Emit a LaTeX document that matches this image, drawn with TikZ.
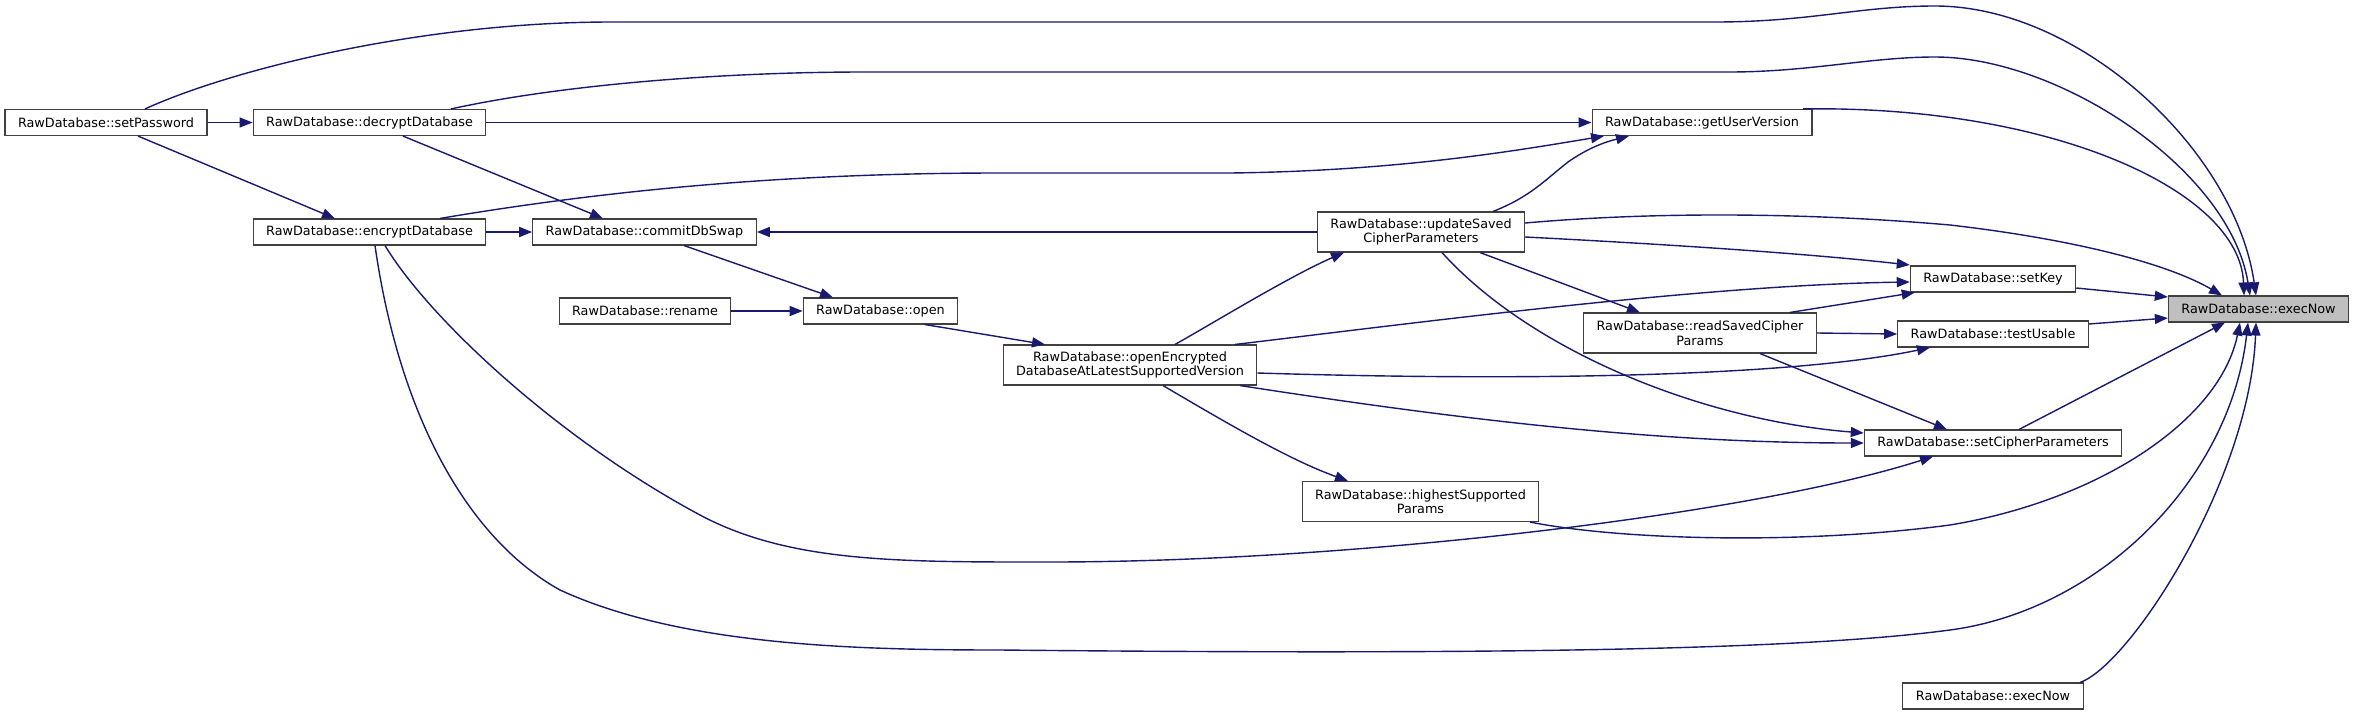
\documentclass[tikz,border=0pt]{standalone}
\usepackage{fontspec}
\setmainfont{DejaVu Sans}
\usetikzlibrary{arrows.meta}
\definecolor{edgec}{HTML}{191970}
\definecolor{boxc}{HTML}{404040}
\definecolor{fillc}{HTML}{BFBFBF}
\begin{document}
\begin{tikzpicture}[x=1pt,y=-1pt,
  fn/.style={draw=boxc, line width=1.1pt, fill=white, inner xsep=13pt, inner ysep=0pt,
    minimum height=26pt, font=\fontsize{12.8pt}{14.5pt}\selectfont, align=center},
  fntwo/.style={fn, minimum height=40pt},
  conn/.style={draw=edgec, line width=1.4pt, -{Triangle[length=13pt,width=10pt]}}]
\useasboundingbox (0,0) rectangle (2353,715);
\node[fn] (sp) at (106,122.5) {RawDatabase::setPassword};
\node[fn] (dec) at (369.5,122.5) {RawDatabase::decryptDatabase};
\node[fn] (guv) at (1702,122.5) {RawDatabase::getUserVersion};
\node[fn] (enc) at (369.5,232) {RawDatabase::encryptDatabase};
\node[fn] (cds) at (644.5,232) {RawDatabase::commitDbSwap};
\node[fntwo] (usc) at (1421,232) {RawDatabase::updateSaved\\CipherParameters};
\node[fn] (sk) at (1993,279) {RawDatabase::setKey};
\node[fn, fill=fillc] (ex) at (2258.5,309) {RawDatabase::execNow};
\node[fntwo] (rsc) at (1700,333) {RawDatabase::readSavedCipher\\Params};
\node[fn] (tu) at (1993,334) {RawDatabase::testUsable};
\node[fn] (ren) at (645,311) {RawDatabase::rename};
\node[fn] (opn) at (880.5,311) {RawDatabase::open};
\node[fntwo] (oe) at (1130,365) {RawDatabase::openEncrypted\\DatabaseAtLatestSupportedVersion};
\node[fn] (sc) at (1993,443) {RawDatabase::setCipherParameters};
\node[fntwo] (hs) at (1420.5,501.5) {RawDatabase::highestSupported\\Params};
\node[fn] (exb) at (1993,696) {RawDatabase::execNow};

\draw[conn] (sp.east) -- (dec.west);
\draw[conn] (sp.south -| 138,0) -- (enc.north -| 335,0);
\draw[conn] (sp.north -| 145,0) .. controls (230,70) and (420,22) .. (612,22) -- (1715,22) .. controls (1810,22) and (1860,6) .. (1935,6) .. controls (2080,6) and (2235,150) .. (ex.north -| 2256,0);
\draw[conn] (dec.east) -- (guv.west);
\draw[conn] (dec.south -| 403,0) -- (cds.north -| 603,0);
\draw[conn] (dec.north -| 451,0) .. controls (560,85) and (720,72) .. (865,72) -- (1729,72) .. controls (1810,72) and (1870,57) .. (1935,57) .. controls (2060,57) and (2230,170) .. (ex.north -| 2250,0);
\draw[conn] (enc.east) -- (cds.west);
\draw[conn] (enc.north -| 440,0) .. controls (620,188) and (800,173) .. (1000,173) -- (1230,173) .. controls (1400,171) and (1520,150) .. (guv.south -| 1604,0);
\draw[conn] (enc.south -| 385,0) .. controls (430,320) and (560,440) .. (700,515) .. controls (790,563) and (900,562) .. (1050,562) .. controls (1350,562) and (1750,515) .. (sc.south -| 1933,0);
\draw[conn] (enc.south -| 375,0) .. controls (400,420) and (470,540) .. (560,590) .. controls (680,645) and (850,650) .. (1000,650) .. controls (1500,655) and (1800,650) .. (1950,630) .. controls (2100,610) and (2230,480) .. (ex.south -| 2248,0);
\draw[conn] (cds.south -| 684,0) -- (opn.north -| 833,0);
\draw[conn] (ren.east) -- (opn.west);
\draw[conn] (opn.south -| 925,0) -- (oe.north -| 1045,0);
\draw[conn] (oe.north -| 1175,0) .. controls (1215,322) and (1290,276) .. (usc.south -| 1344,0);
\draw[conn] (oe.north -| 1235,0) .. controls (1400,325) and (1700,285) .. ([yshift=-3pt]sk.west);
\draw[conn] (oe.east |- 0,373) .. controls (1550,382) and (1800,375) .. (tu.south -| 1930,0);
\draw[conn] (oe.south -| 1240,0) .. controls (1450,418) and (1650,443) .. (sc.west);
\draw[conn] (oe.south -| 1163,0) .. controls (1230,425) and (1290,460) .. (hs.north -| 1348,0);
\draw[conn] (usc.north -| 1493,0) .. controls (1530,197) and (1545,180) .. (1568,162) .. controls (1588,148) and (1605,142) .. (guv.south -| 1629,0);
\draw[conn] (usc.west) -- (cds.east);
\draw[conn] (usc.east |- 0,223) .. controls (1650,212) and (1800,212) .. (1950,225) .. controls (2080,240) and (2170,265) .. (ex.north -| 2222,0);
\draw[conn] (usc.east |- 0,237) .. controls (1700,246) and (1820,255) .. ([yshift=14pt]sk.west);
\draw[conn] (usc.south -| 1480,0) -- (rsc.north -| 1640,0);
\draw[conn] (usc.south -| 1442,0) .. controls (1530,350) and (1700,420) .. ([yshift=10pt]sc.west);
\draw[conn] (rsc.north -| 1790,0) -- ([xshift=5pt]sk.south west);
\draw[conn] (rsc.east) -- (tu.west);
\draw[conn] (rsc.south -| 1760,0) -- (sc.north -| 1947,0);
\draw[conn] (guv.north -| 1803,0) .. controls (2050,105) and (2240,190) .. (ex.north -| 2244,0);
\draw[conn] (sk.east |- 0,288) -- ([yshift=12pt]ex.west);
\draw[conn] (tu.east |- 0,324) -- ([yshift=-9pt]ex.west);
\draw[conn] (sc.north -| 2019,0) -- (ex.south -| 2225,0);
\draw[conn] (hs.south -| 1530,0) .. controls (1620,540) and (1800,545) .. (1950,525) .. controls (2100,500) and (2220,420) .. (ex.south -| 2240,0);
\draw[conn] (exb.north -| 2080,0) .. controls (2130,665) and (2250,480) .. (ex.south -| 2256,0);
\end{tikzpicture}
\end{document}
